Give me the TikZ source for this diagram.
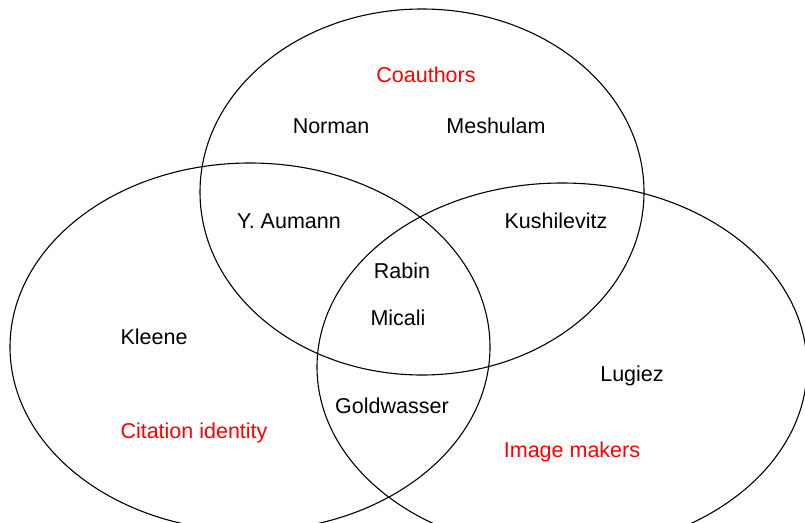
\documentclass[tikz,border=0pt]{standalone}
\usepackage{fontspec}
\setmainfont{Liberation Sans}
\usepackage{xcolor}
\definecolor{SetRed}{RGB}{255,0,0}

\begin{document}
\begin{tikzpicture}[
x=1pt,y=-1pt,
setline/.style={draw=black,line width=1.1pt},
member/.style={font=\fontsize{21.5}{25}\selectfont,text=black,inner sep=0pt},
setname/.style={member,text=SetRed}
]
\useasboundingbox (0,0) rectangle (805,522);
\clip (0,0) rectangle (805,522);

% the three sets
\draw[setline] (422,192) ellipse [x radius=222,y radius=183];
\draw[setline] (250,347) ellipse [x radius=240,y radius=184];
\draw[setline] (562,367) ellipse [x radius=245,y radius=184];

\node[setname] (coauth) at (426,75) {Coauthors};
\node[setname] (citid) at (194,433) {Citation identity};
\node[setname] (imgmk) at (572,452) {Image makers};

\node[member] (norman) at (331,126) {Norman};
\node[member] (meshulam) at (496,126) {Meshulam};
\node[member] (aumann) at (289,221) {Y. Aumann};
\node[member] (kushi) at (556,221) {Kushilevitz};
\node[member] (rabin) at (402,271) {Rabin};
\node[member] (micali) at (398,318) {Micali};
\node[member] (kleene) at (154,337) {Kleene};
\node[member] (lugiez) at (632,376) {Lugiez};
\node[member] (goldw) at (392,406) {Goldwasser};

\end{tikzpicture}
\end{document}
